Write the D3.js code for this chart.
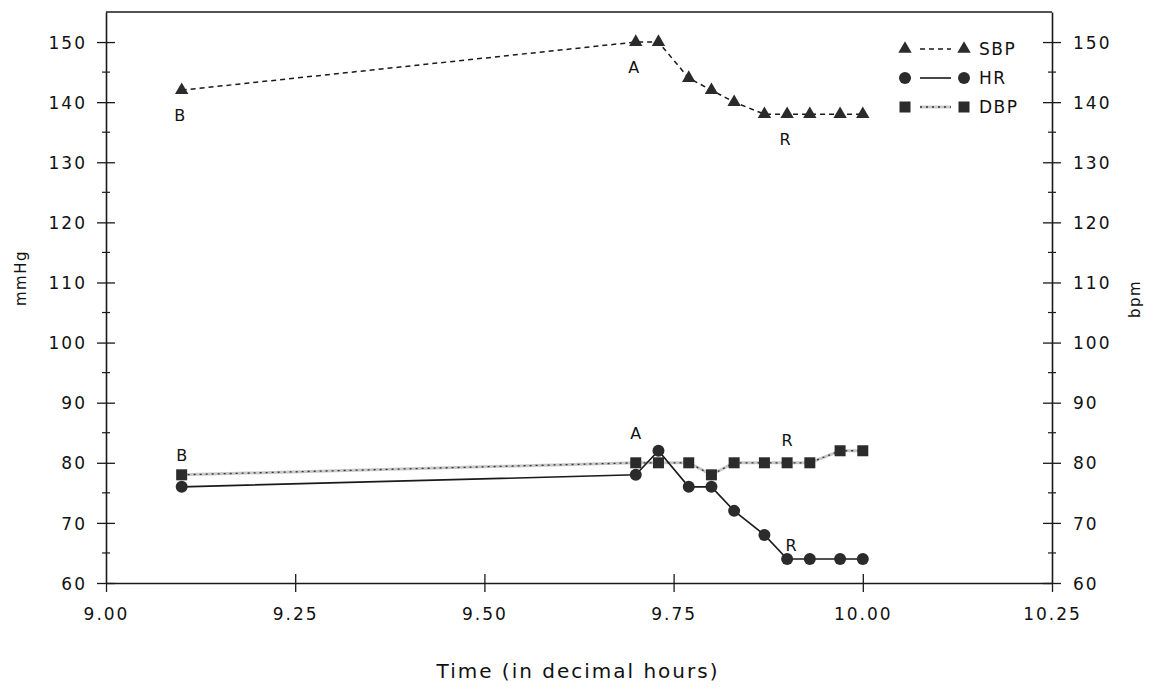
<!DOCTYPE html>
<html>
<head>
<meta charset="utf-8">
<script src="https://cdn.jsdelivr.net/npm/d3@7/dist/d3.min.js"></script>
<style>
  html, body { margin: 0; padding: 0; background: #fff; }
  svg { display: block; }
  text { font-family: "DejaVu Sans", sans-serif; fill: #111; }
</style>
</head>
<body>
<svg id="chart" width="1151" height="689"></svg>
<script>
// ---- data ----
const times = [9.10, 9.70, 9.73, 9.77, 9.80, 9.83, 9.87, 9.90, 9.93, 9.97, 10.00];
const sbp   = [142, 150, 150, 144, 142, 140, 138, 138, 138, 138, 138];
const hr    = [76,  78,  82,  76,  76,  72,  68,  64,  64,  64,  64];
const dbp   = [78,  80,  80,  80,  78,  80,  80,  80,  80,  82,  82];
const xTicks = [9.00, 9.25, 9.50, 9.75, 10.00, 10.25];
const yTicks = [60, 70, 80, 90, 100, 110, 120, 130, 140, 150];
const yMinor = [65, 75, 85, 95, 105, 115, 125, 135, 145];
const seriesNames = ["SBP", "HR", "DBP"];
// annotation letters: series, index into times, label
const annotations = [
  ["SBP", 0, "B"], ["SBP", 1, "A"], ["SBP", 7, "R"],
  ["DBP", 0, "B"], ["DBP", 1, "A"], ["DBP", 7, "R"],
  ["HR", 7, "R"]
];

const svg = d3.select("#chart");
const L = 106, R = 1052, T = 12, B = 583;
const x = d3.scaleLinear().domain([9.0, 10.25]).range([L, R]);
const y = d3.scaleLinear().domain([60, 155]).range([B, T]);

const ink = "#1a1a1a";

// frame top line
svg.append("line").attr("x1", L).attr("x2", R).attr("y1", T).attr("y2", T)
  .attr("stroke", ink).attr("stroke-width", 1.6);

function styleAxis(g) {
  g.select(".domain").attr("stroke", ink).attr("stroke-width", 1.6);
  g.selectAll(".tick line").attr("stroke", ink).attr("stroke-width", 1.3);
  g.selectAll(".tick text").attr("font-size", 17).attr("letter-spacing", 2).attr("fill", ink);
}

// x axis
const gx = svg.append("g").attr("transform", `translate(0,${B})`)
  .call(d3.axisBottom(x).tickValues(xTicks).tickFormat(d3.format(".2f")).tickSize(9).tickPadding(14).tickSizeOuter(0));
styleAxis(gx);
gx.selectAll(".tick line").attr("y1", -9).attr("y2", 9);
gx.selectAll(".tick").filter(d => d === 10.25 || d === 9.0).select("line").attr("y1", 0);
gx.selectAll(".tick text").attr("dy", "0.85em");

// left axis
const gl = svg.append("g").attr("transform", `translate(${L},0)`)
  .call(d3.axisLeft(y).tickValues(yTicks).tickSize(9).tickPadding(10).tickSizeOuter(0));
styleAxis(gl);
gl.selectAll(".tick line").attr("x1", -9).attr("x2", 9);
gl.selectAll(".tick text").attr("dy", "0.36em");
gl.selectAll(".minor").data(yMinor).enter().append("line")
  .attr("x1", -4).attr("x2", 4).attr("y1", d => y(d)).attr("y2", d => y(d))
  .attr("stroke", ink).attr("stroke-width", 1.2);

// right axis
const gr = svg.append("g").attr("transform", `translate(${R},0)`)
  .call(d3.axisRight(y).tickValues(yTicks).tickSize(9).tickPadding(12).tickSizeOuter(0));
styleAxis(gr);
gr.selectAll(".tick line").attr("x1", -9).attr("x2", 9);
gr.selectAll(".tick text").attr("dy", "0.36em");
gr.selectAll(".minor").data(yMinor).enter().append("line")
  .attr("x1", -4).attr("x2", 4).attr("y1", d => y(d)).attr("y2", d => y(d))
  .attr("stroke", ink).attr("stroke-width", 1.2);

// axis titles
svg.append("text").attr("transform", `translate(26,278) rotate(-90)`)
  .attr("text-anchor", "middle").attr("font-size", 15).attr("letter-spacing", 1.5).text("mmHg");
svg.append("text").attr("transform", `translate(1140,299) rotate(-90)`)
  .attr("text-anchor", "middle").attr("font-size", 15).attr("letter-spacing", 1.5).text("bpm");
svg.append("text").attr("x", 578).attr("y", 678).attr("text-anchor", "middle")
  .attr("font-size", 20).attr("letter-spacing", 2).text("Time (in decimal hours)");

// lines
const line = vals => d3.line().x((d, i) => x(times[i])).y(d => y(d))(vals);
const data = { SBP: sbp, HR: hr, DBP: dbp };

function drawStroke(g, name, pathD) {
  if (name === "SBP") {
    g.append("path").attr("d", pathD).attr("fill", "none")
      .attr("stroke", ink).attr("stroke-width", 1.5).attr("stroke-dasharray", "5,4");
  } else if (name === "HR") {
    g.append("path").attr("d", pathD).attr("fill", "none")
      .attr("stroke", ink).attr("stroke-width", 1.6);
  } else {
    g.append("path").attr("d", pathD).attr("fill", "none")
      .attr("stroke", "#c8c8c8").attr("stroke-width", 3);
    g.append("path").attr("d", pathD).attr("fill", "none")
      .attr("stroke", "#333").attr("stroke-width", 1.3).attr("stroke-dasharray", "2,4");
  }
}

const markerColor = "#2b2b2b";
function drawMarker(g, name, cx, cy) {
  if (name === "SBP") {
    g.append("path").attr("d", d3.symbol(d3.symbolTriangle, 78)())
      .attr("transform", `translate(${cx},${cy})`).attr("fill", markerColor);
  } else if (name === "HR") {
    g.append("circle").attr("cx", cx).attr("cy", cy).attr("r", 6).attr("fill", markerColor);
  } else {
    g.append("rect").attr("x", cx - 5.5).attr("y", cy - 5.5).attr("width", 11).attr("height", 11)
      .attr("fill", markerColor);
  }
}

const plot = svg.append("g");
["DBP", "HR", "SBP"].forEach(name => drawStroke(plot, name, line(data[name])));
["DBP", "HR", "SBP"].forEach(name => {
  data[name].forEach((v, i) => drawMarker(plot, name, x(times[i]), y(v)));
});

// annotations
const annOffset = { "SBP": [-2, 31], "DBP": [0, -14], "HR": [4, -8] };
annotations.forEach(([s, i, lab]) => {
  let [dx, dy] = annOffset[s];
  if (s === "DBP" && lab === "A") dy = -24;
  if (s === "DBP" && lab === "R") dy = -17;
  svg.append("text").attr("x", x(times[i]) + dx).attr("y", y(data[s][i]) + dy)
    .attr("text-anchor", "middle").attr("font-size", 16).text(lab);
});

// legend
const leg = svg.append("g");
seriesNames.forEach((name, k) => {
  const ly = 49 + k * 29;
  drawStroke(leg, name, d3.line()([[920, ly], [951, ly]]));
  drawMarker(leg, name, 905, ly);
  drawMarker(leg, name, 964, ly);
  leg.append("text").attr("x", 979).attr("y", ly).attr("dy", "0.36em")
    .attr("font-size", 17).attr("letter-spacing", 1.5).text(name);
});
</script>
</body>
</html>
